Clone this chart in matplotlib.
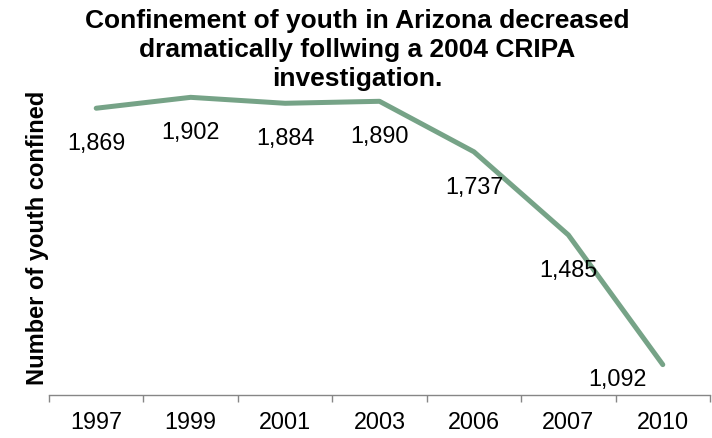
import numpy as np
import matplotlib
matplotlib.use("Agg")
import matplotlib.pyplot as plt

# data
years = ["1997", "1999", "2001", "2003", "2006", "2007", "2010"]
confined = [1869, 1902, 1884, 1890, 1737, 1485, 1092]
value_labels = ["1,869", "1,902", "1,884", "1,890", "1,737", "1,485", "1,092"]

plt.rcParams['font.family'] = ['Liberation Sans', 'DejaVu Sans']

W, H = 712, 438
fig = plt.figure(figsize=(W / 100, H / 100), dpi=100)
ax = fig.add_axes([49 / W, 43 / H, 661 / W, 330 / H])

x = np.arange(len(years))
ax.plot(x, confined, color='#76a387', linewidth=3.6, solid_capstyle='round',
        solid_joinstyle='round')

# data labels under the points, the last one pushed to the lower left
px = 72 / 100  # points per pixel
for i, (xi, yi, lab) in enumerate(zip(x, confined, value_labels)):
    if i == len(years) - 1:
        dx, dy = -45, -21.5
    else:
        dx, dy = 0, -42
    ax.annotate(lab, (xi, yi), xytext=(dx * px, dy * px), textcoords='offset points',
                ha='center', va='baseline', fontsize=16.8, color='black')

ax.set_xlim(-0.5, len(years) - 0.5)
ax.set_ylim(1000, 2000)

# tick marks on category borders, year labels in the middle
ax.set_xticks(np.arange(-0.5, len(years), 1.0))
ax.set_xticklabels([])
ax.set_xticks(x, minor=True)
ax.set_xticklabels(years, minor=True, fontsize=16.8)
ax.tick_params(axis='x', which='major', length=5, color='#868686', width=1)
ax.tick_params(axis='x', which='minor', length=0, pad=11.5)
ax.set_yticks([])

for s in ['top', 'right', 'left']:
    ax.spines[s].set_visible(False)
ax.spines['bottom'].set_color('#868686')
ax.spines['bottom'].set_linewidth(1)

title_lines = ["Confinement of youth in Arizona decreased",
               "dramatically follwing a 2004 CRIPA",
               "investigation."]
for line, base in zip(title_lines, [28, 57, 86]):
    fig.text(357 / W, 1 - base / H, line, ha='center', va='baseline',
             fontsize=19, fontweight='bold')

fig.text(38 / W, 1 - 237.5 / H, "Number of youth confined", rotation=90,
         ha='center', va='center', fontsize=17, fontweight='bold')

fig.savefig("out.png", dpi=100)
